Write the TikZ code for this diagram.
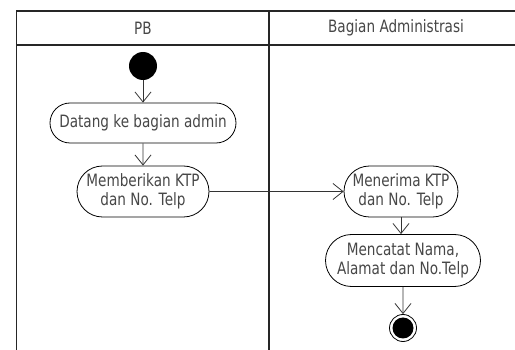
\documentclass[tikz,border=0pt]{standalone}
\usepackage{fontspec}
\setmainfont{DejaVu Sans}[FakeStretch=0.8]
\usetikzlibrary{arrows.meta,shapes.misc}
\begin{document}
\begin{tikzpicture}[x=1pt,y=-1pt,
  lane/.style={line width=1.3pt,draw=black!85},
  action/.style={draw=black,line width=0.8pt,rounded rectangle,align=center,
    inner xsep=2pt,inner ysep=2pt,text=black!72,font=\fontsize{17}{19}\selectfont},
  flow/.style={draw=black!80,line width=0.8pt,-{Straight Barb[length=10pt,width=16pt,line width=0.8pt]}},
  title/.style={text=black!72,font=\fontsize{17}{19}\selectfont}]
\useasboundingbox (0,0) rectangle (515,350);
\fill[white] (0,0) rectangle (515,350);
% swimlane frame
\draw[lane] (16.5,350) -- (16.5,11) -- (515,11);
\draw[lane] (16.5,45) -- (515,45);
\draw[lane] (269,11) -- (269,350);
\node[title] (lanePB) at (143,28) {PB};
\node[title] (laneBA) at (396,28) {Bagian Administrasi};
% start and end
\node[circle,fill=black,minimum size=28pt,inner sep=0pt] (start) at (143,66) {};
\node[circle,draw=black,line width=0.8pt,minimum size=27pt,inner sep=0pt] (stop) at (403,328) {};
\fill[black] (stop.center) circle (10.5pt);
% actions
\node[action,minimum width=190pt,minimum height=40pt] (datang) at (143,123) {Datang ke bagian admin};
\node[action,minimum width=136pt,minimum height=51pt] (beri) at (143,191.5) {Memberikan KTP\\dan No. Telp};
\node[action,minimum width=118pt,minimum height=51pt] (terima) at (401,191.5) {Menerima KTP\\dan No. Telp};
\node[action,minimum width=159pt,minimum height=52pt] (catat) at (403,260.5) {Mencatat Nama,\\Alamat dan No.Telp};
% transitions
\draw[flow] (start) -- (datang);
\draw[flow] (datang) -- (beri);
\draw[flow] (beri) -- (terima);
\draw[flow] (terima.south) -- (terima.south |- catat.north);
\draw[flow] (catat) -- (stop);
\end{tikzpicture}
\end{document}
